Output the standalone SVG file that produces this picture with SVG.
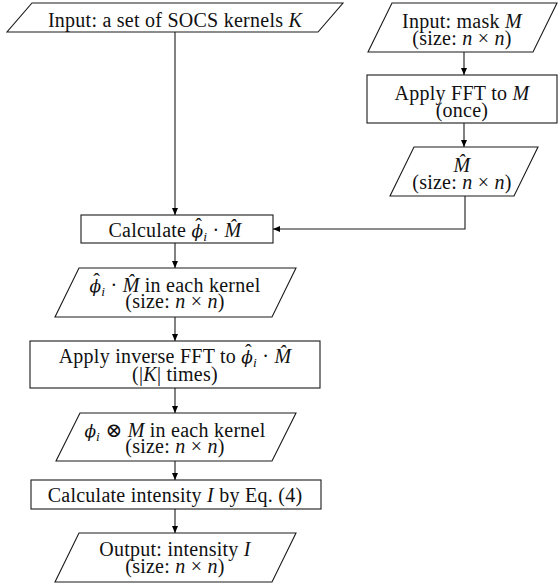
<svg xmlns="http://www.w3.org/2000/svg" width="558" height="585" viewBox="0 0 558 585">
<defs>
<marker id="ah" markerUnits="userSpaceOnUse" markerWidth="8" markerHeight="6" refX="7" refY="3" orient="auto">
<path d="M0,0 L7,3 L0,6 z" fill="#000"/>
</marker>
<style>
.s{fill:#fff;stroke:#1a1a1a;stroke-width:1.1}
.c{fill:none;stroke:#1a1a1a;stroke-width:1.1;marker-end:url(#ah)}
text{font-family:"Liberation Serif","DejaVu Serif",serif;font-size:20px;letter-spacing:0.25px;fill:#111;text-anchor:middle}
.m{font-style:italic}
.g{font-family:"DejaVu Serif",serif;font-style:italic;font-size:17px;letter-spacing:0}
.h{letter-spacing:0}
.sub{font-style:italic;font-size:13.5px}
</style>
</defs>
<g id="connectors">
<path class="c" d="M175,32 L175,215"/>
<path class="c" d="M464,52 L464,75"/>
<path class="c" d="M464,123 L464,147"/>
<path class="c" d="M465,196 L465,229 L273,229"/>
<path class="c" d="M175,243 L175,268"/>
<path class="c" d="M175,317 L175,341"/>
<path class="c" d="M175,388 L175,413"/>
<path class="c" d="M175,461 L175,480"/>
<path class="c" d="M175,509 L175,533"/>
</g>
<g id="n1">
<polygon class="s" points="32,3 343,3 318,32 7,32"/>
<text x="175" y="27">Input: a set of SOCS kernels <tspan class="m">K</tspan></text>
</g>
<g id="n2">
<polygon class="s" points="392,3 557,3 533,52 368,52"/>
<text x="462" y="28">Input: mask <tspan class="m">M</tspan></text>
<text x="462" y="45">(size: <tspan class="m">n</tspan> × <tspan class="m">n</tspan>)</text>
</g>
<g id="n3">
<rect class="s" x="367" y="75" width="190" height="48"/>
<text x="462" y="100">Apply FFT to <tspan class="m">M</tspan></text>
<text x="462" y="117">(once)</text>
</g>
<g id="n4">
<polygon class="s" points="414,147 538,147 514,196 390,196"/>
<text x="462" y="172"><tspan class="m">M̂</tspan></text>
<text x="462" y="189">(size: <tspan class="m">n</tspan> × <tspan class="m">n</tspan>)</text>
</g>
<g id="n5">
<rect class="s" x="81" y="215" width="192" height="28"/>
<text x="175" y="237">Calculate <tspan class="g">ϕ</tspan><tspan class="h" dx="-7.8" dy="-4">ˆ</tspan><tspan class="sub" dx="1.2" dy="8">i</tspan><tspan dy="-4"> · </tspan><tspan class="m">M̂</tspan></text>
</g>
<g id="n6">
<polygon class="s" points="79,268 296,268 272,317 55,317"/>
<text x="175" y="292"><tspan class="g">ϕ</tspan><tspan class="h" dx="-7.8" dy="-4">ˆ</tspan><tspan class="sub" dx="1.2" dy="8">i</tspan><tspan dy="-4"> · </tspan><tspan class="m">M̂</tspan> in each kernel</text>
<text x="175" y="308">(size: <tspan class="m">n</tspan> × <tspan class="m">n</tspan>)</text>
</g>
<g id="n7">
<rect class="s" x="30" y="341" width="290" height="47"/>
<text x="175" y="363">Apply inverse FFT to <tspan class="g">ϕ</tspan><tspan class="h" dx="-7.8" dy="-4">ˆ</tspan><tspan class="sub" dx="1.2" dy="8">i</tspan><tspan dy="-4"> · </tspan><tspan class="m">M̂</tspan></text>
<text x="175" y="381">(|<tspan class="m">K</tspan>| times)</text>
</g>
<g id="n8">
<polygon class="s" points="80,413 296,413 272,461 56,461"/>
<text x="175" y="437"><tspan class="g">ϕ</tspan><tspan class="sub" dy="4">i</tspan><tspan dy="-4"> ⊗ </tspan><tspan class="m">M</tspan> in each kernel</text>
<text x="175" y="453">(size: <tspan class="m">n</tspan> × <tspan class="m">n</tspan>)</text>
</g>
<g id="n9">
<rect class="s" x="31" y="480" width="290" height="29"/>
<text x="175" y="502">Calculate intensity <tspan class="m">I</tspan> by Eq. (4)</text>
</g>
<g id="n10">
<polygon class="s" points="79,533 296,533 272,582 55,582"/>
<text x="175" y="556">Output: intensity <tspan class="m">I</tspan></text>
<text x="175" y="573">(size: <tspan class="m">n</tspan> × <tspan class="m">n</tspan>)</text>
</g>
</svg>
